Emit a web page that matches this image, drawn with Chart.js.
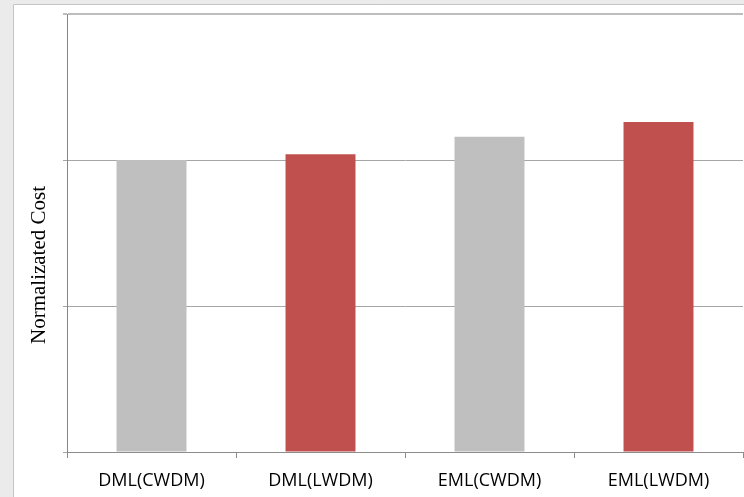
<!DOCTYPE html>
<html>
<head>
<meta charset="utf-8">
<script src="https://cdn.jsdelivr.net/npm/chart.js@4/dist/chart.umd.min.js"></script>
<style>
  html, body { margin: 0; padding: 0; background: #ebebeb; }
  #wrap { width: 744px; height: 497px; position: relative; }
</style>
</head>
<body>
<div id="wrap"><canvas id="chart" width="744" height="497"></canvas></div>
<script>
// Transceiver options and their normalized cost (DML(CWDM) = 1)
const categories = ['DML(CWDM)', 'DML(LWDM)', 'EML(CWDM)', 'EML(LWDM)'];
const costValues = [1.00, 1.02, 1.08, 1.13];
const yTicks = [0, 0.5, 1.0, 1.5];

const GRAY = '#bfbfbf';
const RED = '#c0504d';
const barColors = categories.map((_, i) => (i % 2 === 0 ? GRAY : RED));

// Page panel: gray surround with a white framed sheet
const panelPlugin = {
  id: 'panel',
  beforeDraw(chart) {
    const ctx = chart.ctx;
    ctx.save();
    ctx.fillStyle = '#ebebeb';
    ctx.fillRect(0, 0, chart.width, chart.height);
    ctx.fillStyle = '#ffffff';
    ctx.fillRect(13, 4, chart.width - 13, chart.height - 4);
    ctx.strokeStyle = '#c4c4c4';
    ctx.lineWidth = 1;
    ctx.beginPath();
    ctx.moveTo(13.5, chart.height);
    ctx.lineTo(13.5, 4.5);
    ctx.lineTo(chart.width, 4.5);
    ctx.stroke();
    ctx.restore();
  }
};

// Vertical axis caption, set in a serif face
const yCaptionPlugin = {
  id: 'yCaption',
  afterDraw(chart) {
    const ctx = chart.ctx;
    ctx.save();
    ctx.translate(45, 265);
    ctx.rotate(-Math.PI / 2);
    ctx.font = "21px 'Liberation Serif', 'Times New Roman', serif";
    ctx.fillStyle = '#000000';
    ctx.textAlign = 'center';
    ctx.textBaseline = 'alphabetic';
    ctx.fillText('Normalizated Cost', 0, 0);
    ctx.restore();
  }
};

new Chart(document.getElementById('chart'), {
  type: 'bar',
  data: {
    labels: categories,
    datasets: [{
      data: costValues,
      backgroundColor: barColors,
      borderWidth: 0,
      barPercentage: 0.414,
      categoryPercentage: 1.0
    }]
  },
  options: {
    responsive: false,
    animation: false,
    devicePixelRatio: 1,
    layout: { padding: { top: 14, right: 1, left: 0, bottom: 0 } },
    plugins: {
      legend: { display: false },
      tooltip: { enabled: false }
    },
    scales: {
      x: {
        offset: true,
        grid: {
          offset: true,
          drawOnChartArea: false,
          drawTicks: true,
          tickLength: 6,
          color: '#8c8c8c'
        },
        border: { color: '#8c8c8c', width: 1 },
        ticks: {
          color: '#000000',
          padding: 12,
          font: { family: "'Open Sans', sans-serif", size: 18 }
        },
        afterFit(scale) { scale.height = 45; }
      },
      y: {
        min: 0,
        max: 1.5,
        afterBuildTicks(scale) {
          scale.ticks = yTicks.map(v => ({ value: v }));
        },
        grid: {
          color: ctx => (ctx.tick && ctx.tick.value === 1.5 ? '#bdbdbd' : '#a6a6a6'),
          lineWidth: ctx => (ctx.tick && ctx.tick.value === 1.5 ? 2 : 1),
          drawTicks: true,
          tickLength: 4
        },
        border: { color: '#868686', width: 1 },
        ticks: { display: false },
        afterFit(scale) { scale.width = 67; }
      }
    }
  },
  plugins: [panelPlugin, yCaptionPlugin]
});
</script>
</body>
</html>
